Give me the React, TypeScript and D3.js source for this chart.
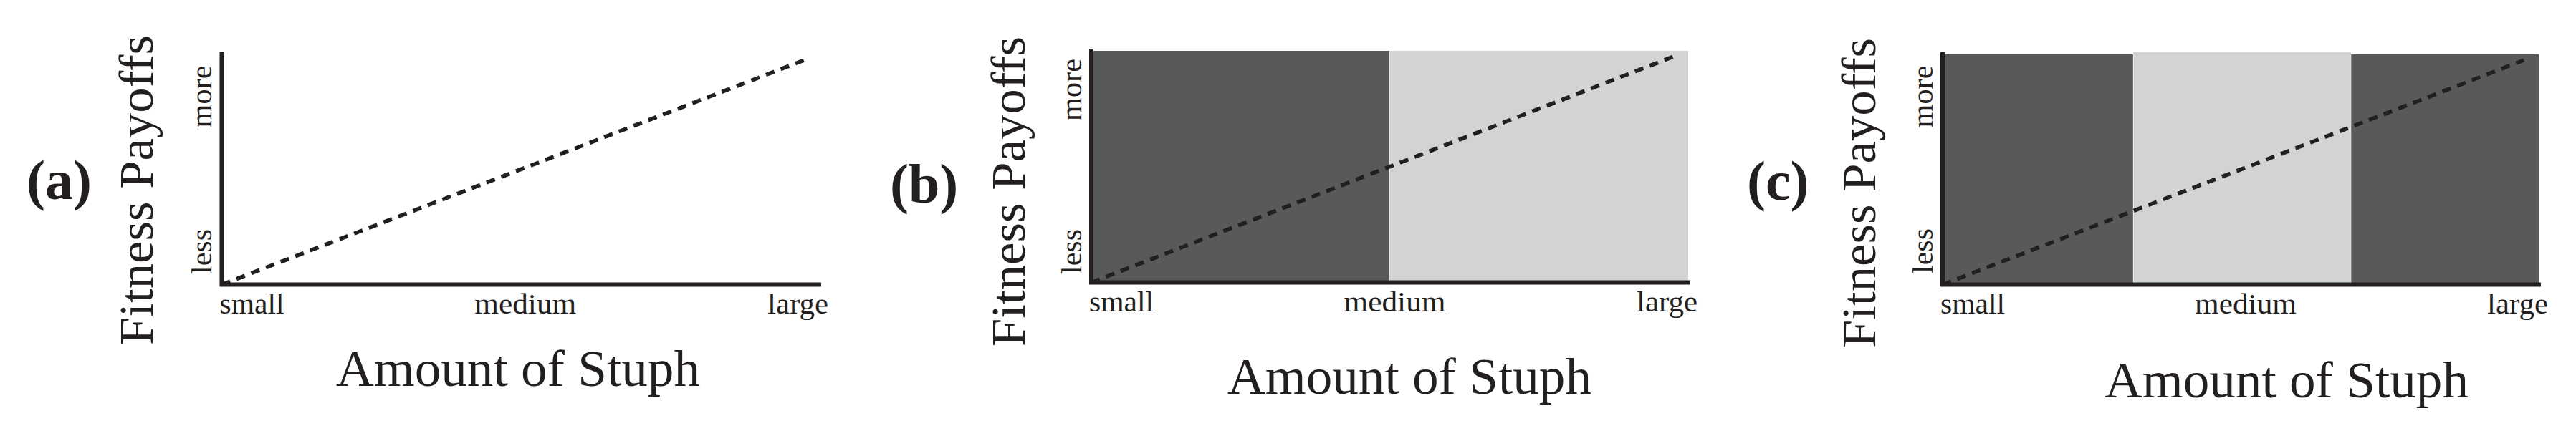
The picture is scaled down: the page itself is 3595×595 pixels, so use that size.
import React from "react";
import * as d3 from "d3";

// ---- data ----
const panelLetters = ["(a)", "(b)", "(c)"];
const categories = ["small", "medium", "large"];
const categoryPositions = [0, 1, 2];
const yLevelLabels = ["less", "more"];
const xAxisTitle = "Amount of Stuph";
const yAxisTitle = "Fitness Payoffs";
// dashed payoff line (x in category units 0..2, y in payoff units 0..1)
const lineX = [0, 1.95];
const lineY = [0, 0.975];
// shaded regions per panel: [from, to, shade]
const regionsA: [number, number, string][] = [];
const regionsB: [number, number, string][] = [
  [0, 1, "dark"],
  [1, 2, "light"],
];
const regionsC: [number, number, string][] = [
  [0, 0.64, "dark"],
  [0.64, 1.37, "light"],
  [1.37, 2, "dark"],
];
const panelRegions = [regionsA, regionsB, regionsC];

// ---- layout (not data) ----
const layouts = [
  { left: 309.5, right: 1143, top: 76, bottom: 397.5, letterX: 37, letterY: 278, titleYX: 213, titleYY: 265.5, moreC: 135, lessS: 383, titleX: 469, titleY: 539 },
  { left: 1523, right: 2356, top: 71, bottom: 394.5, letterX: 1242, letterY: 283, titleYX: 1430, titleYY: 267.5, moreC: 125.5, lessS: 383, titleX: 1713, titleY: 550 },
  { left: 2711, right: 3543, top: 76, bottom: 397.5, letterX: 2438, letterY: 279, titleYX: 2617, titleYY: 269.5, moreC: 135, lessS: 382, titleX: 2937, titleY: 555 },
];

const INK = "#231f20";
const SHADES: Record<string, string> = { dark: "#58595b", light: "#d1d3d4" };
const FONT = "'Liberation Serif', 'DejaVu Serif', serif";
const tickWidths = [90, 142, 85];

function Panel({ idx }: { idx: number }) {
  const L = layouts[idx];
  const x = d3.scaleLinear().domain([0, 2]).range([L.left, L.right]);
  const y = d3.scaleLinear().domain([0, 1]).range([L.bottom, L.top]);
  const pts = lineX.map((v, i) => [v, lineY[i]] as [number, number]);
  const lineGen = d3
    .line<[number, number]>()
    .x((d) => x(d[0]))
    .y((d) => y(d[1]));
  const axisPath = `M${x(0)},${y(1)} L${x(0)},${y(0)} L${x(2)},${y(0)}`;
  const tickAnchors = ["start", "middle", "end"];
  const tickDx = [-3, 7, 13];
  return (
    <g>
      {panelRegions[idx].map(([a, b, s], i) => (
        <rect
          key={i}
          x={x(a)}
          y={y(1) - (s === "light" && idx === 2 ? 3 : 0)}
          width={x(b) - x(a)}
          height={y(0) - y(1) + (s === "light" && idx === 2 ? 3 : 0)}
          fill={SHADES[s]}
        />
      ))}
      {panelRegions[idx].slice(1).map(([a], i) => (
        <line key={"sep" + i} x1={x(a)} x2={x(a)} y1={y(1)} y2={y(0)} stroke="#ffffff" strokeWidth={1} strokeOpacity={0.6} />
      ))}
      <path
        d={lineGen(pts) || ""}
        fill="none"
        stroke={INK}
        strokeWidth={5.5}
        strokeDasharray="12.5 9.5"
      />
      <path d={axisPath} fill="none" stroke={INK} strokeWidth={6} strokeLinejoin="miter" strokeLinecap="square" />
      {categories.map((c, i) => (
        <text
          key={c}
          x={x(categoryPositions[i]) + tickDx[i]}
          y={y(0) + 40}
          textAnchor={tickAnchors[i]}
          fontFamily={FONT}
          fontSize={41}
          textLength={tickWidths[i]}
          lengthAdjust="spacingAndGlyphs"
          fill={INK}
        >
          {c}
        </text>
      ))}
      <text
        transform={`translate(${x(0) - 14.5},${L.lessS}) rotate(-90)`}
        textAnchor="start"
        fontFamily={FONT}
        fontSize={41}
        textLength={63}
        lengthAdjust="spacingAndGlyphs"
        fill={INK}
      >
        {yLevelLabels[0]}
      </text>
      <text
        transform={`translate(${x(0) - 14.5},${L.moreC}) rotate(-90)`}
        textAnchor="middle"
        fontFamily={FONT}
        fontSize={41}
        textLength={87}
        lengthAdjust="spacingAndGlyphs"
        fill={INK}
      >
        {yLevelLabels[1]}
      </text>
      <text
        transform={`translate(${L.titleYX},${L.titleYY}) rotate(-90)`}
        textAnchor="middle"
        fontFamily={FONT}
        fontSize={68}
        textLength={433}
        lengthAdjust="spacingAndGlyphs"
        fill={INK}
      >
        {yAxisTitle}
      </text>
      <text
        x={L.titleX}
        y={L.titleY}
        fontFamily={FONT}
        fontSize={71}
        textLength={508}
        lengthAdjust="spacingAndGlyphs"
        fill={INK}
      >
        {xAxisTitle}
      </text>
      <text
        x={L.letterX}
        y={L.letterY}
        fontFamily={FONT}
        fontWeight="bold"
        fontSize={78}
        fill={INK}
      >
        {panelLetters[idx]}
      </text>
    </g>
  );
}

export default function App() {
  return (
    <svg
      width={3595}
      height={595}
      viewBox="0 0 3595 595"
      style={{ position: "absolute", left: 0, top: 0, background: "#ffffff" }}
    >
      <rect x={0} y={0} width={3595} height={595} fill="#ffffff" />
      {[0, 1, 2].map((i) => (
        <Panel key={i} idx={i} />
      ))}
    </svg>
  );
}
